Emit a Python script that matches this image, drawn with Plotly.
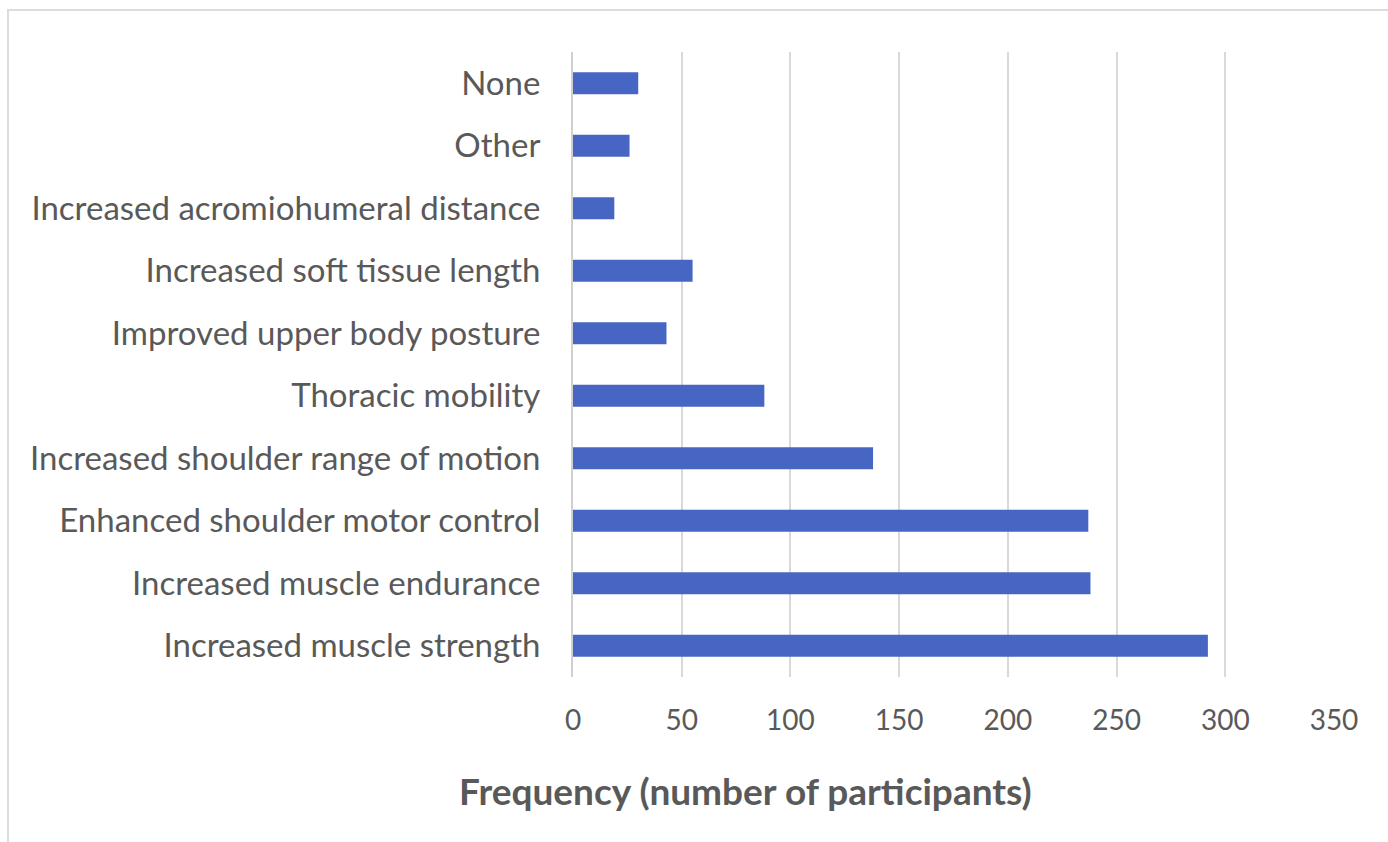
import plotly.graph_objects as go

# Reported effects of the exercise programme, listed top to bottom
categories = [
    "None",
    "Other",
    "Increased acromiohumeral distance",
    "Increased soft tissue length",
    "Improved upper body posture",
    "Thoracic mobility",
    "Increased shoulder range of motion",
    "Enhanced shoulder motor control",
    "Increased muscle endurance",
    "Increased muscle strength",
]
frequency = [30, 26, 19, 55, 43, 88, 138, 237, 238, 292]
x_ticks = [0, 50, 100, 150, 200, 250, 300, 350]

W, H = 1388, 842
L, R, T, B = 573, 54, 52, 165
FONT = "Lato"
TEXT = "#595959"

fig = go.Figure(
    go.Bar(
        x=frequency,
        y=categories,
        orientation="h",
        marker=dict(color="#4766c4", line=dict(width=0)),
        hoverinfo="x+y",
    )
)

fig.update_layout(
    width=W,
    height=H,
    margin=dict(l=L, r=R, t=T, b=B, pad=0),
    paper_bgcolor="white",
    plot_bgcolor="white",
    bargap=0.65,
    showlegend=False,
    font=dict(family=FONT, color=TEXT),
    xaxis=dict(
        range=[0, 350],
        tickvals=x_ticks,
        showgrid=True,
        gridcolor="#d9d9d9",
        gridwidth=2,
        zeroline=False,
        showline=False,
        ticks="",
        tickfont=dict(family=FONT, size=28, color=TEXT),
        ticklabelstandoff=24,
    ),
    yaxis=dict(
        categoryorder="array",
        categoryarray=categories,
        autorange="reversed",
        showgrid=False,
        zeroline=False,
        showline=True,
        linecolor="#d0d0d0",
        linewidth=2,
        ticks="",
        tickfont=dict(family=FONT, size=33, color=TEXT),
        ticklabelstandoff=24,
    ),
    annotations=[
        dict(
            text="<b>Frequency (number of participants)</b>",
            xref="paper",
            yref="paper",
            x=(745 - L) / (W - L - R),
            y=-(790 - (H - B)) / (H - T - B),
            xanchor="center",
            yanchor="middle",
            showarrow=False,
            font=dict(family=FONT, size=37, color=TEXT),
        )
    ],
    shapes=[
        # light frame round the chart area
        dict(
            type="rect",
            xref="paper",
            yref="paper",
            x0=(8 - L) / (W - L - R),
            x1=(W + 40 - L) / (W - L - R),
            y0=-(H + 40 - (H - B)) / (H - T - B),
            y1=1 + (T - 10) / (H - T - B),
            line=dict(color="#dcdcdc", width=2),
            fillcolor="rgba(0,0,0,0)",
            layer="below",
        )
    ],
)

fig.write_html("out.html")
